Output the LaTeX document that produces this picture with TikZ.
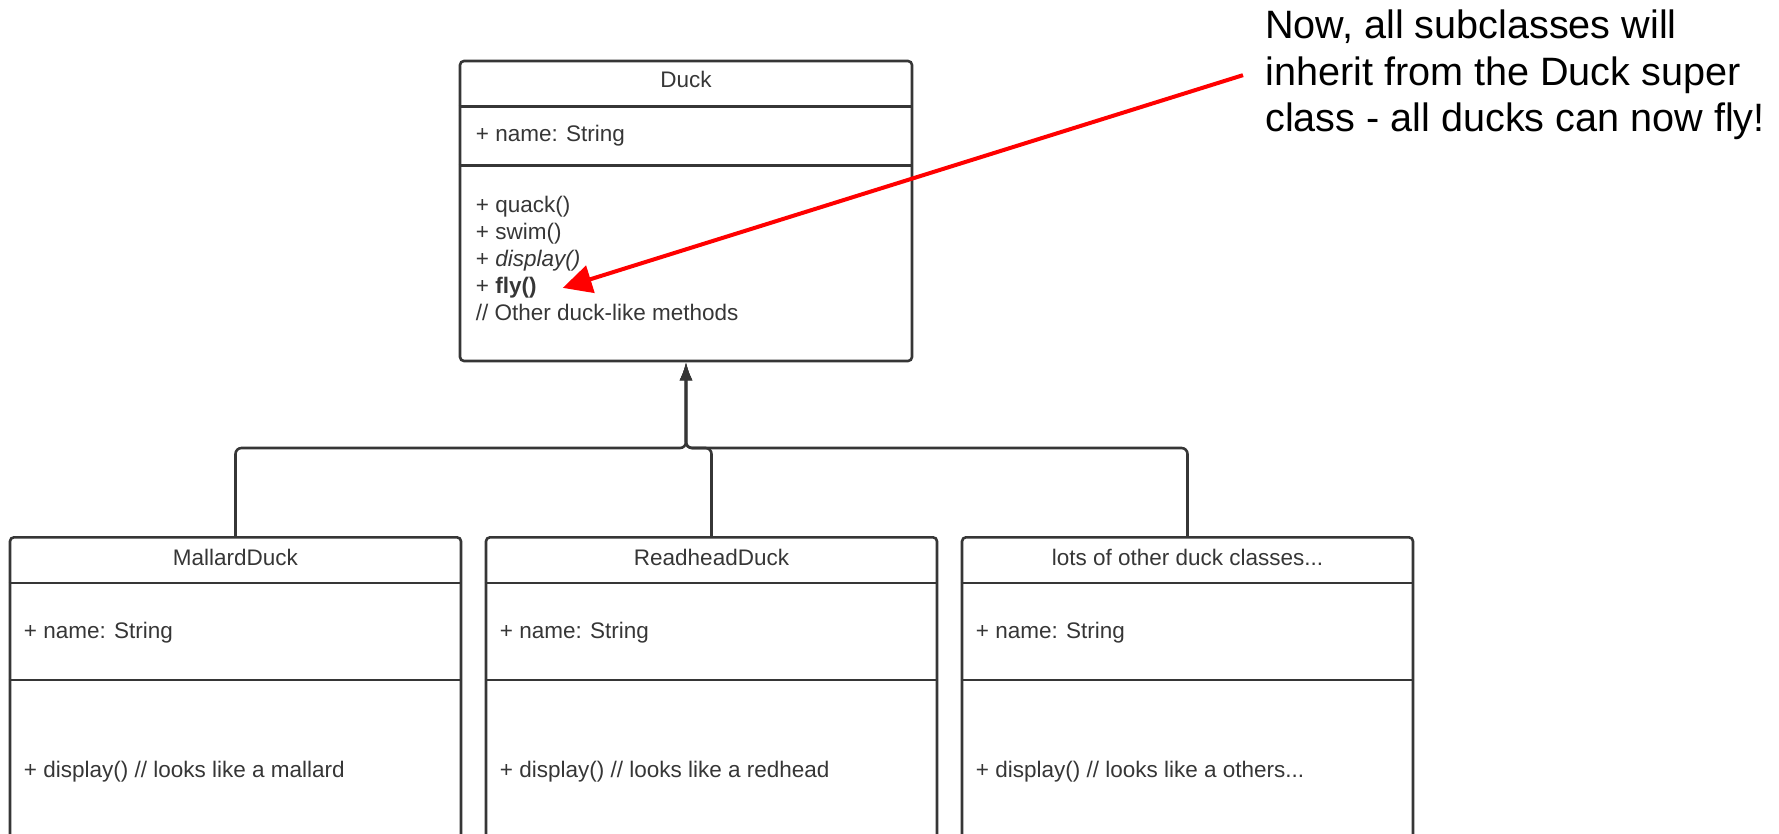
\documentclass[tikz,border=0pt]{standalone}
\usepackage{fontspec}
\setmainfont{Liberation Sans}
\usepackage{xcolor}
\usetikzlibrary{arrows.meta}
\definecolor{umlgray}{HTML}{363636}

\begin{document}
\begin{tikzpicture}[x=1pt, y=-1pt,
  classbox/.style={draw=umlgray, line width=2.6pt, rounded corners=4pt, inner sep=0pt, minimum width=451pt},
  divider/.style={draw=umlgray, line width=2.6pt},
  member/.style={anchor=base west, inner sep=0pt, text=umlgray, font=\fontsize{22.5}{27}\selectfont},
  title/.style={member, anchor=base},
  inherit/.style={draw=umlgray, line width=2.6pt, rounded corners=6pt, -{Latex[length=18pt, width=13pt]}},
  note/.style={anchor=north west, inner sep=0pt, align=left, font=\fontsize{39.6}{46.5}\selectfont}]
  \useasboundingbox (0,0) rectangle (1779,833);
  \clip (0,0) rectangle (1779,833);

  \node[classbox, minimum width=452pt, minimum height=300pt] (duck) at (686,211) {};
  \draw[divider] ([yshift=-47pt]duck.north west) -- ([yshift=-47pt]duck.north east);
  \draw[divider] ([yshift=-106pt]duck.north west) -- ([yshift=-106pt]duck.north east);
  \node[title] (duck-title) at ([yshift=-28pt]duck.north) {Duck};
  \node[member] (duck-attr) at ([shift={(17,82)}]duck.north west) {+ name: String};
  \foreach \m [count=\i] in {{+ quack()}, {+ swim()}, {+ \textit{display()}}, {+ \textbf{fly()}}, {// Other duck-like methods}}
    \node[member] (op\i) at ([shift={(17,126+27*\i)}]duck.north west) {\m};

  \node[classbox, anchor=north, minimum height=312pt] (mallard) at (235.5,536) {};
  \node[classbox, anchor=north, minimum height=312pt] (readhead) at (711.5,536) {};
  \node[classbox, anchor=north, minimum height=312pt] (others) at (1187.5,536) {};
  \foreach \c in {mallard, readhead, others} {
    \draw[divider] ([yshift=-47pt]\c.north west) -- ([yshift=-47pt]\c.north east);
    \draw[divider] ([yshift=-144pt]\c.north west) -- ([yshift=-144pt]\c.north east);
    \node[member] (\c-attr) at ([shift={(15,102)}]\c.north west) {+ name: String};
  }
  \node[title] (mallard-title) at ([yshift=-29pt]mallard.north) {MallardDuck};
  \node[title] (readhead-title) at ([yshift=-29pt]readhead.north) {ReadheadDuck};
  \node[title] (others-title) at ([yshift=-29pt]others.north) {lots of other duck classes...};
  \node[member] (mallard-op) at ([shift={(15,241)}]mallard.north west) {+ display() // looks like a mallard};
  \node[member] (readhead-op) at ([shift={(15,241)}]readhead.north west) {+ display() // looks like a redhead};
  \node[member] (others-op) at ([shift={(15,241)}]others.north west) {+ display() // looks like a others...};

  \coordinate (bus) at (686,448);
  \draw[inherit] (mallard.north) |- (bus) -- (duck.south);
  \draw[inherit] (readhead.north) |- (bus) -- (duck.south);
  \draw[inherit] (others.north) |- (bus) -- (duck.south);

  \node[note] (note) at (1265,10) {Now, all subclasses will\\inherit from the Duck super\\class - all ducks can now fly!};
  \draw[red, line width=4pt, -{Triangle[length=29pt, width=28pt]}] ([xshift=-22pt]note.west) -- ([xshift=26pt]op4.east);
\end{tikzpicture}
\end{document}
